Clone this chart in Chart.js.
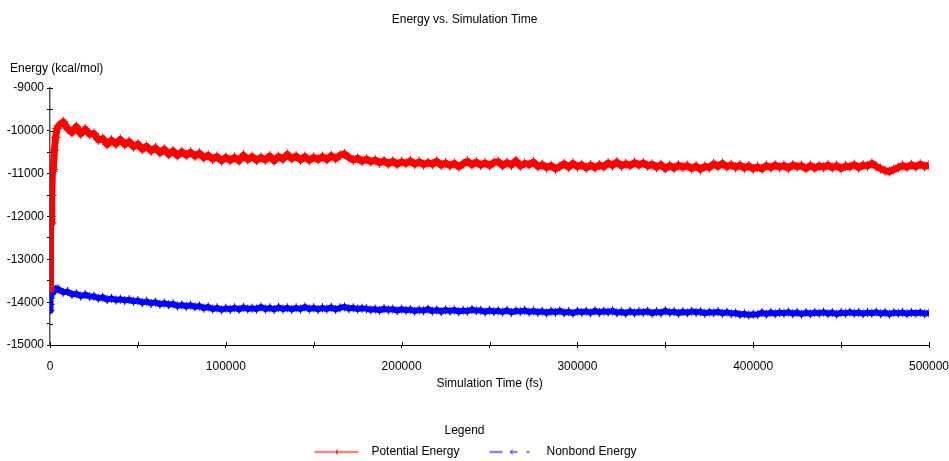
<!DOCTYPE html>
<html>
<head>
<meta charset="utf-8">
<script src="https://cdn.jsdelivr.net/npm/chart.js@4.4.1/dist/chart.umd.min.js"></script>
<style>
  html, body { margin: 0; padding: 0; background: #fff; }
  canvas { display: block; }
</style>
</head>
<body>
<canvas id="energyChart" width="949" height="461"></canvas>
<script>
const timeFs = [0, 200, 400, 700, 1000, 1400, 1900, 2500, 3200, 4000,
  5000, 7500, 10000, 12500, 15000, 17500, 20000, 22500, 25000, 27500,
  30000, 32500, 35000, 37500, 40000, 42500, 45000, 47500, 50000, 52500,
  55000, 57500, 60000, 62500, 65000, 67500, 70000, 72500, 75000, 77500,
  80000, 82500, 85000, 87500, 90000, 92500, 95000, 97500, 100000, 102500,
  105000, 107500, 110000, 112500, 115000, 117500, 120000, 122500, 125000, 127500,
  130000, 132500, 135000, 137500, 140000, 142500, 145000, 147500, 150000, 152500,
  155000, 157500, 160000, 162500, 165000, 167500, 170000, 172500, 175000, 177500,
  180000, 182500, 185000, 187500, 190000, 192500, 195000, 197500, 200000, 202500,
  205000, 207500, 210000, 212500, 215000, 217500, 220000, 222500, 225000, 227500,
  230000, 232500, 235000, 237500, 240000, 242500, 245000, 247500, 250000, 252500,
  255000, 257500, 260000, 262500, 265000, 267500, 270000, 272500, 275000, 277500,
  280000, 282500, 285000, 287500, 290000, 292500, 295000, 297500, 300000, 302500,
  305000, 307500, 310000, 312500, 315000, 317500, 320000, 322500, 325000, 327500,
  330000, 332500, 335000, 337500, 340000, 342500, 345000, 347500, 350000, 352500,
  355000, 357500, 360000, 362500, 365000, 367500, 370000, 372500, 375000, 377500,
  380000, 382500, 385000, 387500, 390000, 392500, 395000, 397500, 400000, 402500,
  405000, 407500, 410000, 412500, 415000, 417500, 420000, 422500, 425000, 427500,
  430000, 432500, 435000, 437500, 440000, 442500, 445000, 447500, 450000, 452500,
  455000, 457500, 460000, 462500, 465000, 467500, 470000, 472500, 475000, 477500,
  480000, 482500, 485000, 487500, 490000, 492500, 495000, 497500, 500000];

// Potential Energy (kcal/mol)
const potential = [-13700, -12100, -12000, -12150, -11500, -10950, -10900, -10450, -10150, -9950,
  -9880, -9790, -9950, -10040, -9900, -10070, -9960, -10080, -10060, -10210,
  -10180, -10320, -10220, -10310, -10200, -10320, -10250, -10370, -10310, -10430,
  -10360, -10470, -10400, -10510, -10430, -10550, -10470, -10580, -10490, -10570,
  -10500, -10590, -10520, -10630, -10570, -10660, -10600, -10700, -10620, -10690,
  -10620, -10700, -10570, -10670, -10600, -10690, -10620, -10680, -10590, -10700,
  -10600, -10660, -10550, -10650, -10590, -10680, -10600, -10690, -10620, -10670,
  -10600, -10670, -10580, -10650, -10570, -10540, -10620, -10680, -10640, -10710,
  -10660, -10720, -10680, -10750, -10700, -10770, -10710, -10780, -10720, -10760,
  -10700, -10780, -10720, -10790, -10740, -10780, -10710, -10800, -10750, -10810,
  -10760, -10840, -10770, -10710, -10790, -10730, -10800, -10750, -10810, -10740,
  -10720, -10810, -10740, -10800, -10700, -10820, -10760, -10790, -10730, -10830,
  -10790, -10860, -10810, -10890, -10830, -10770, -10850, -10760, -10840, -10790,
  -10870, -10800, -10860, -10800, -10840, -10750, -10810, -10730, -10820, -10770,
  -10810, -10740, -10800, -10750, -10820, -10780, -10850, -10790, -10880, -10810,
  -10870, -10800, -10850, -10810, -10880, -10820, -10900, -10830, -10860, -10770,
  -10830, -10760, -10840, -10790, -10850, -10800, -10870, -10820, -10890, -10840,
  -10890, -10810, -10860, -10800, -10850, -10810, -10870, -10800, -10840, -10810,
  -10880, -10810, -10870, -10820, -10850, -10800, -10860, -10810, -10880, -10820,
  -10840, -10790, -10860, -10800, -10820, -10760, -10830, -10880, -10930, -10950,
  -10900, -10860, -10810, -10850, -10790, -10840, -10780, -10830, -10800];

// Nonbond Energy (kcal/mol)
const nonbond = [-14200, -14050, -13900, -13820, -13790, -13760, -13740, -13720, -13700, -13690,
  -13700, -13770, -13750, -13820, -13800, -13860, -13820, -13870, -13860, -13910,
  -13880, -13940, -13910, -13950, -13930, -13960, -13940, -13980, -13960, -14010,
  -13980, -14030, -14000, -14050, -14020, -14060, -14040, -14090, -14060, -14100,
  -14070, -14110, -14090, -14140, -14110, -14160, -14130, -14180, -14140, -14170,
  -14130, -14170, -14120, -14160, -14140, -14160, -14110, -14160, -14130, -14170,
  -14120, -14160, -14130, -14170, -14130, -14160, -14110, -14160, -14130, -14170,
  -14130, -14160, -14120, -14170, -14130, -14110, -14150, -14130, -14160, -14140,
  -14150, -14180, -14160, -14190, -14150, -14180, -14160, -14200, -14160, -14190,
  -14170, -14210, -14180, -14200, -14160, -14210, -14180, -14220, -14180, -14210,
  -14180, -14220, -14190, -14210, -14170, -14200, -14190, -14230, -14190, -14220,
  -14200, -14230, -14190, -14240, -14200, -14220, -14190, -14230, -14200, -14240,
  -14210, -14250, -14210, -14240, -14200, -14250, -14220, -14260, -14210, -14240,
  -14210, -14250, -14200, -14240, -14210, -14230, -14200, -14250, -14220, -14260,
  -14210, -14250, -14220, -14240, -14210, -14260, -14220, -14250, -14200, -14240,
  -14220, -14260, -14220, -14250, -14210, -14240, -14220, -14260, -14230, -14250,
  -14220, -14260, -14230, -14270, -14250, -14290, -14270, -14300, -14280, -14290,
  -14240, -14280, -14240, -14270, -14240, -14260, -14230, -14270, -14240, -14280,
  -14240, -14270, -14240, -14260, -14230, -14270, -14240, -14280, -14240, -14260,
  -14230, -14260, -14240, -14270, -14240, -14260, -14230, -14270, -14240, -14280,
  -14240, -14260, -14240, -14270, -14240, -14260, -14240, -14270, -14250];

const seriesNames = ['Potential Energy', 'Nonbond Energy'];
const yTicks = { min: -15000, max: -9000, step: 500 };
const xTicks = { min: 0, max: 500000, step: 50000 };

const FONT = '"Liberation Sans", Arial, sans-serif';

// little legend swatches, line + marker like the original program draws them
function makeSwatch(kind) {
  const c = document.createElement('canvas');
  c.width = 73; c.height = 9;
  const g = c.getContext('2d');
  if (kind === 0) {
    g.strokeStyle = '#ff3030'; g.lineWidth = 1.5;
    g.beginPath(); g.moveTo(22, 4.5); g.lineTo(66, 4.5); g.stroke();
    g.strokeStyle = '#c00000'; g.lineWidth = 1;
    g.beginPath(); g.moveTo(44.5, 2); g.lineTo(44.5, 7); g.stroke();
  } else {
    g.strokeStyle = '#3a3aff'; g.lineWidth = 1.5;
    g.beginPath();
    g.moveTo(22, 4.5); g.lineTo(35, 4.5);
    g.moveTo(43, 4.5); g.lineTo(50, 4.5);
    g.moveTo(59, 4.5); g.lineTo(62, 4.5);
    g.stroke();
    g.lineWidth = 1;
    g.beginPath(); g.moveTo(45.5, 2); g.lineTo(42.5, 4.5); g.lineTo(45.5, 7); g.stroke();
  }
  return c;
}
const swatches = [makeSwatch(0), makeSwatch(1)];

const extras = {
  id: 'extras',
  afterDraw(chart) {
    const { ctx, scales: { x, y } } = chart;
    ctx.save();
    ctx.strokeStyle = '#000';
    ctx.lineWidth = 1;
    ctx.beginPath();
    x.ticks.forEach(t => {
      const px = Math.round(x.getPixelForValue(t.value)) + 0.5;
      ctx.moveTo(px, x.top); ctx.lineTo(px, x.top - 3);
    });
    y.ticks.forEach(t => {
      const py = Math.round(y.getPixelForValue(t.value)) + 0.5;
      ctx.moveTo(y.right, py); ctx.lineTo(y.right + 3, py);
    });
    ctx.stroke();
    ctx.fillStyle = '#000';
    ctx.font = '12px ' + FONT;
    ctx.textBaseline = 'middle';
    ctx.textAlign = 'left';
    ctx.fillText('Energy (kcal/mol)', 10, 69);
    ctx.restore();
  }
};

const ctx = document.getElementById('energyChart').getContext('2d');
new Chart(ctx, {
  type: 'line',
  data: {
    datasets: [
      {
        label: seriesNames[0],
        data: potential.map((v, i) => ({ x: timeFs[i], y: v })),
        borderColor: '#ff0000',
        backgroundColor: '#ff0000',
        borderWidth: 7,
        borderJoinStyle: 'round',
        pointStyle: 'cross',
        pointRadius: 5,
        pointBorderWidth: 1,
        pointBorderColor: '#ff0000',
        tension: 0
      },
      {
        label: seriesNames[1],
        data: nonbond.map((v, i) => ({ x: timeFs[i], y: v })),
        borderColor: '#0000ff',
        backgroundColor: '#0000ff',
        borderWidth: 6,
        borderJoinStyle: 'round',
        pointStyle: 'cross',
        pointRadius: 4.5,
        pointBorderWidth: 1,
        pointBorderColor: '#0000ff',
        tension: 0
      }
    ]
  },
  options: {
    responsive: false,
    animation: false,
    events: [],
    layout: { padding: { left: 0, right: 20, top: 0, bottom: -7 } },
    plugins: {
      title: {
        display: true,
        text: 'Energy vs. Simulation Time',
        color: '#000',
        font: { family: FONT, size: 12, weight: 'normal' },
        padding: { top: 12, bottom: 61.6 }
      },
      legend: {
        display: true,
        position: 'bottom',
        title: {
          display: true,
          text: 'Legend',
          color: '#000',
          font: { family: FONT, size: 12, lineHeight: 1.08 },
          padding: 0
        },
        labels: {
          color: '#000',
          font: { family: FONT, size: 12 },
          usePointStyle: true,
          pointStyleWidth: 73,
          padding: 8,
          generateLabels: (chart) => chart.data.datasets.map((ds, i) => ({
            text: ds.label,
            pointStyle: swatches[i],
            fillStyle: ds.borderColor,
            strokeStyle: ds.borderColor,
            lineWidth: 0,
            fontColor: '#000',
            datasetIndex: i
          }))
        }
      },
      tooltip: { enabled: false }
    },
    scales: {
      x: {
        type: 'linear',
        min: xTicks.min,
        max: xTicks.max,
        afterFit: (scale) => {
          scale.height = 80;
          scale.paddingLeft = 0;
          scale.paddingRight = 0;
        },
        border: { display: true, color: '#000', width: 1 },
        grid: { display: true, drawOnChartArea: false, drawTicks: true, tickLength: 3, color: '#000' },
        ticks: {
          stepSize: xTicks.step,
          autoSkip: false,
          maxRotation: 0,
          padding: 11,
          color: '#000',
          font: { family: FONT, size: 12 },
          callback: (v) => (v % 100000 === 0 ? String(v) : '')
        },
        title: {
          display: true,
          text: 'Simulation Time (fs)',
          color: '#000',
          font: { family: FONT, size: 12 },
          padding: { top: 0, bottom: 34 }
        }
      },
      y: {
        type: 'linear',
        min: yTicks.min,
        max: yTicks.max,
        afterFit: (scale) => { scale.width = 50; },
        border: { display: true, color: '#555', width: 1.5 },
        grid: { display: true, drawOnChartArea: false, drawTicks: true, tickLength: 3, color: '#000' },
        ticks: {
          stepSize: yTicks.step,
          autoSkip: false,
          padding: 3,
          color: '#000',
          font: { family: FONT, size: 12 },
          callback: (v) => (v % 1000 === 0 ? String(v) : '')
        }
      }
    }
  },
  plugins: [extras]
});
</script>
</body>
</html>
